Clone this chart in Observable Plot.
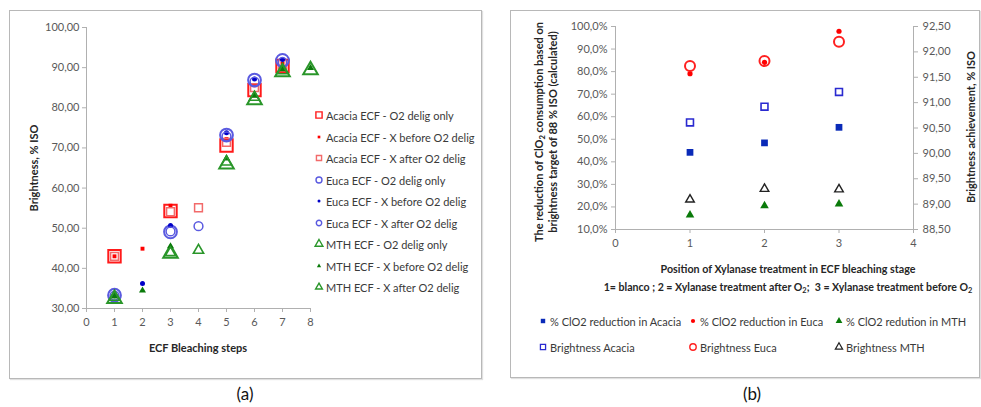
<!DOCTYPE html>
<html><head><meta charset="utf-8">
<script src="https://cdn.jsdelivr.net/npm/d3@7"></script>
<script src="https://cdn.jsdelivr.net/npm/@observablehq/plot@0.6"></script>
<style>
body{margin:0;background:#fff;font-family:Lato,"Liberation Sans",sans-serif;}
#root{position:relative;width:981px;height:407px;overflow:hidden;background:#fff;}
.frame{position:absolute;border:1.5px solid #b8b8b8;box-sizing:border-box;box-shadow:1px 1px 1px rgba(0,0,0,0.12);}
.t{position:absolute;white-space:nowrap;transform:translate(-50%,-50%);}
.rot{transform:translate(-50%,-50%) rotate(-90deg);text-align:center;}
.b{font-weight:bold;color:#262626;font-size:11px;}
.lt{position:absolute;white-space:nowrap;font-size:11px;color:#3a3a3a;transform:translateY(-50%);}
.plot{position:absolute;}
.cap{font-size:17px;color:#111;}
sub{font-size:70%;vertical-align:-0.25em;line-height:0;}
</style></head><body><div id="root">
<div class="frame" style="left:9px;top:10px;width:473px;height:369px;"></div>
<div class="frame" style="left:510px;top:10px;width:470px;height:368px;"></div>
<div class="t rot b" style="left:33px;top:168px;">Brightness, % ISO</div>
<div class="t b" style="left:198px;top:347px;">ECF Bleaching steps</div>
<div class="t cap" style="left:245px;top:393px;">(a)</div>
<div class="t rot b" style="left:546px;top:132px;line-height:14px;">The reduction of ClO<sub>2</sub> consumption based on<br>brightness target of 88 % ISO (calculated)</div>
<div class="t rot b" style="left:970px;top:127px;">Brightness achievement, % ISO</div>
<div class="t b" style="left:788px;top:268px;font-size:10.7px;">Position of Xylanase treatment in ECF bleaching stage</div>
<div class="t b" style="left:788px;top:287px;font-size:10.6px;">1= blanco ; 2 = Xylanase treatment after O<sub>2</sub>;&nbsp; 3 = Xylanase treatment before O<sub>2</sub></div>
<div class="t cap" style="left:752px;top:393px;">(b)</div>
</div>
<script>
// ---------- Panel (a): brightness along ECF bleaching steps ----------
const stepsO2 = [1, 3, 5, 6, 7];
const stepsMTHO2 = [1, 3, 5, 6, 7, 8];
const stepsBefore = [1, 2, 3, 5, 6, 7];
const stepsMTHBefore = [1, 2, 3, 5, 6, 7, 8];
const stepsAfter = [1, 3, 4, 5, 6, 7];
const acaciaO2 = [43.0, 54.3, 70.6, 84.4, 90.4];
const acaciaBefore = [43.0, 44.9, 55.6, 72.2, 85.6, 91.0];
const acaciaAfter = [43.0, 54.1, 55.1, 71.4, 85.0, 90.8];
const eucaO2 = [33.3, 49.1, 73.2, 86.9, 91.8];
const eucaBefore = [33.2, 36.2, 50.7, 73.8, 87.2, 92.0];
const eucaAfter = [33.2, 49.2, 50.5, 72.9, 86.5, 91.4];
const mthO2 = [32.4, 43.7, 65.9, 81.9, 88.9, 89.4];
const mthBefore = [33.0, 34.5, 45.5, 67.4, 83.0, 89.6, 89.9];
const mthAfter = [32.8, 43.9, 44.5, 66.5, 82.6, 89.2];
const ticksA_x = [0, 1, 2, 3, 4, 5, 6, 7, 8];
const ticksA_y = [30, 40, 50, 60, 70, 80, 90, 100];
const legendA = ["Acacia ECF - O2 delig only", "Acacia ECF - X before O2 delig", "Acacia ECF - X after O2 delig",
  "Euca ECF - O2 delig only", "Euca ECF - X before O2 delig", "Euca ECF - X after O2 delig",
  "MTH ECF - O2 delig only", "MTH ECF - X before O2 delig", "MTH ECF - X after O2 delig"];

// ---------- Panel (b): position of xylanase treatment ----------
const positions = [1, 2, 3];
const clo2Acacia = [44.2, 48.4, 55.3];
const clo2Euca = [79.1, 84.1, 97.9];
const clo2MTH = [16.4, 20.5, 21.3];
const brightAcacia = [90.61, 90.92, 91.21];
const brightEuca = [91.72, 91.82, 92.20];
const brightMTH = [89.09, 89.30, 89.29];
const ticksB_x = [0, 1, 2, 3, 4];
const ticksB_left = [10, 20, 30, 40, 50, 60, 70, 80, 90, 100];
const ticksB_right = [88.5, 89, 89.5, 90, 90.5, 91, 91.5, 92, 92.5];
const legendB = ["% ClO2 reduction in Acacia", "% ClO2 reduction in Euca", "% ClO2 redution in MTH",
  "Brightness Acacia", "Brightness Euca", "Brightness MTH"];

const pts = (xs, ys) => xs.map((x, i) => ({x, y: ys[i]}));
const fmt2 = d => d.toFixed(2).replace(".", ",");
const fmtPct = d => d.toFixed(1).replace(".", ",") + "%";
const AX = "#b0b0b0", TXT = "#595959";
const baseStyle = {fontFamily: "Lato, sans-serif", fontSize: "11px", background: "transparent", overflow: "visible"};

// series styles for panel (a)
const sA = [
  {symbol: "square", r: 7, stroke: "#ff1a1a", strokeWidth: 2, fill: "none"},
  {symbol: "square", r: 2.2, fill: "#ff0000"},
  {symbol: "square", r: 4.4, stroke: "#f26a6a", strokeWidth: 1.5, fill: "none"},
  {symbol: "circle", r: 6.4, stroke: "#5a5ae0", strokeWidth: 2, fill: "none"},
  {symbol: "circle", r: 2.5, fill: "#0000c8"},
  {symbol: "circle", r: 4.4, stroke: "#5a5ae0", strokeWidth: 1.5, fill: "none"},
  {symbol: "triangle", r: 5.4, stroke: "#2a962a", strokeWidth: 2, fill: "none"},
  {symbol: "triangle", r: 2.6, fill: "#0a7a0a"},
  {symbol: "triangle", r: 3.8, stroke: "#2a962a", strokeWidth: 1.6, fill: "none"}
];
const seriesA = [
  pts(stepsO2, acaciaO2), pts(stepsBefore, acaciaBefore), pts(stepsAfter, acaciaAfter),
  pts(stepsO2, eucaO2), pts(stepsBefore, eucaBefore), pts(stepsAfter, eucaAfter),
  pts(stepsMTHO2, mthO2), pts(stepsMTHBefore, mthBefore), pts(stepsAfter, mthAfter)
];

const plotA = Plot.plot({
  width: 330, height: 360, marginLeft: 86, marginRight: 20, marginTop: 27, marginBottom: 52,
  style: baseStyle,
  x: {domain: [0, 8]}, y: {domain: [30, 100]},
  marks: [
    Plot.ruleX([0], {stroke: AX}),
    Plot.ruleY([30], {stroke: AX}),
    Plot.axisY({ticks: ticksA_y, tickSize: 4, tickPadding: 3, tickFormat: fmt2, stroke: AX, fill: TXT, fontSize: 11, label: null}),
    Plot.axisX({ticks: ticksA_x, tickSize: 4, tickPadding: 6, tickFormat: d => String(d), stroke: AX, fill: TXT, fontSize: 11, label: null}),
    ...seriesA.map((d, i) => Plot.dot(d, {x: "x", y: "y", ...sA[i]}))
  ]
});
plotA.classList.add("plot");
plotA.style.left = "0px"; plotA.style.top = "0px";

// panel (b) left axis plot
const dims = {width: 470, height: 259, marginLeft: 115, marginRight: 57, marginTop: 26, marginBottom: 30};
const plotB1 = Plot.plot({
  ...dims, style: baseStyle,
  x: {domain: [0, 4]}, y: {domain: [10, 100]},
  marks: [
    Plot.ruleX([0], {stroke: AX}),
    Plot.ruleY([10], {stroke: AX}),
    Plot.axisY({ticks: ticksB_left, tickSize: 4, tickPadding: 4, tickFormat: fmtPct, stroke: AX, fill: TXT, fontSize: 11, label: null}),
    Plot.axisX({ticks: ticksB_x, tickSize: 4, tickPadding: 6, tickFormat: d => String(d), stroke: AX, fill: TXT, fontSize: 11, label: null}),
    Plot.dot(pts(positions, clo2Acacia), {x: "x", y: "y", symbol: "square", r: 3.8, fill: "#0a2ab8"}),
    Plot.dot(pts(positions, clo2Euca), {x: "x", y: "y", symbol: "circle", r: 2.6, fill: "#ff0000"}),
    Plot.dot(pts(positions, clo2MTH), {x: "x", y: "y", symbol: "triangle", r: 3.2, fill: "#0a7a0a"})
  ]
});
plotB1.classList.add("plot");
plotB1.style.left = "500px"; plotB1.style.top = "0px";

// panel (b) right axis plot (overlay)
const plotB2 = Plot.plot({
  ...dims, style: baseStyle,
  x: {domain: [0, 4], axis: null}, y: {domain: [88.5, 92.5]},
  marks: [
    Plot.ruleX([4], {stroke: AX}),
    Plot.axisY({anchor: "right", ticks: ticksB_right, tickSize: 4, tickPadding: 5, tickFormat: fmt2, stroke: AX, fill: TXT, fontSize: 11, label: null}),
    Plot.dot(pts(positions, brightAcacia), {x: "x", y: "y", symbol: "square", r: 3.9, stroke: "#2a2ad0", strokeWidth: 1.6, fill: "none"}),
    Plot.dot(pts(positions, brightEuca), {x: "x", y: "y", symbol: "circle", r: 5, stroke: "#ff2020", strokeWidth: 2, fill: "none"}),
    Plot.dot(pts(positions, brightMTH), {x: "x", y: "y", symbol: "triangle", r: 3.2, stroke: "#222", strokeWidth: 1.4, fill: "none"})
  ]
});
plotB2.classList.add("plot");
plotB2.style.left = "500px"; plotB2.style.top = "0px";

const root = document.getElementById("root");
root.appendChild(plotA); root.appendChild(plotB1); root.appendChild(plotB2);

// legends
const symMap = {square: d3.symbolSquare, circle: d3.symbolCircle, triangle: d3.symbolTriangle};
function legendItem(cx, cy, st, text, textX) {
  const svg = d3.create("svg").attr("width", 16).attr("height", 16)
    .style("position", "absolute").style("left", (cx - 8) + "px").style("top", (cy - 8) + "px").style("overflow", "visible");
  svg.append("path")
    .attr("transform", "translate(8,8)")
    .attr("d", d3.symbol(symMap[st.symbol], Math.PI * st.r * st.r)())
    .attr("fill", st.fill || "none").attr("stroke", st.stroke || "none").attr("stroke-width", st.strokeWidth || 0);
  root.appendChild(svg.node());
  const span = document.createElement("div");
  span.className = "lt"; span.textContent = text;
  span.style.left = textX + "px"; span.style.top = cy + "px";
  root.appendChild(span);
}
const legSizeA = [3.5, 1.5, 2.9, 3.0, 1.5, 2.7, 2.9, 1.6, 2.5];
legendA.forEach((t, i) => {
  const st = {...sA[i], r: legSizeA[i], strokeWidth: Math.min(sA[i].strokeWidth || 0, 1.4)};
  legendItem(319, 115 + i * 21.5, st, t, 326);
});
const stB = [
  {symbol: "square", r: 2.5, fill: "#0a2ab8"},
  {symbol: "circle", r: 2.1, fill: "#ff0000"},
  {symbol: "triangle", r: 2.5, fill: "#0a7a0a"},
  {symbol: "square", r: 2.9, stroke: "#2a2ad0", strokeWidth: 1.3, fill: "none"},
  {symbol: "circle", r: 3.2, stroke: "#ff2020", strokeWidth: 1.4, fill: "none"},
  {symbol: "triangle", r: 2.7, stroke: "#222", strokeWidth: 1.2, fill: "none"}
];
const colX = [543, 693, 839];
legendB.forEach((t, i) => {
  const c = i % 3, r = Math.floor(i / 3);
  legendItem(colX[c], 321 + r * 26, stB[i], t, colX[c] + 7);
});
</script>
</body></html>
